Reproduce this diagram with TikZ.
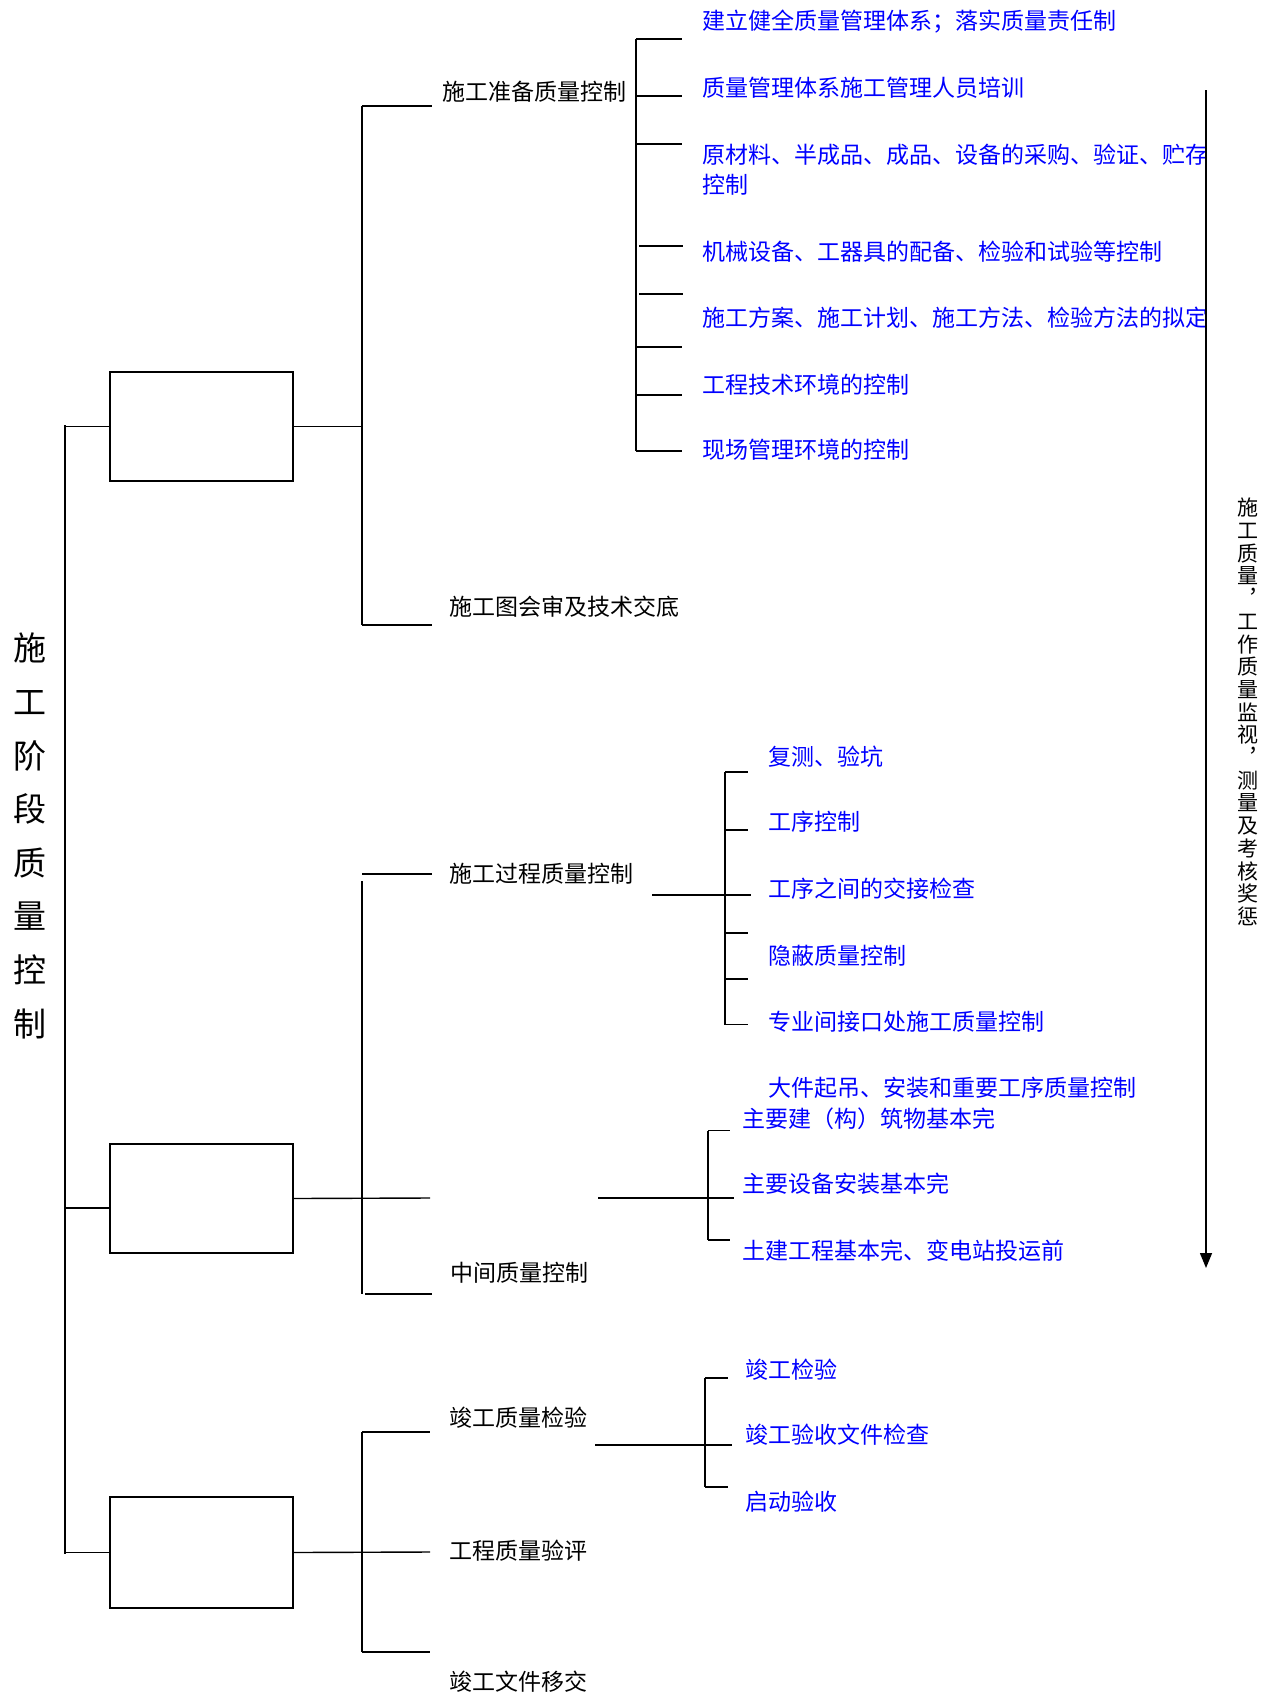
\documentclass[tikz,border=0pt]{standalone}
\usepackage{fontspec}
\setmainfont{Noto Sans CJK SC}
\usetikzlibrary{arrows.meta}
\definecolor{tblue}{RGB}{0,0,255}
\begin{document}
\begin{tikzpicture}[x=1pt,y=-1pt,
  ln/.style={line width=1.4pt, black},
  lbl/.style={anchor=west, inner sep=0pt, font=\fontsize{23}{30}\selectfont, text=black},
  blu/.style={lbl, text=tblue},
  bx/.style={draw, line width=1.4pt, minimum width=183pt, minimum height=109pt, inner sep=0pt}]
\useasboundingbox[fill=white] (0,0) rectangle (1280,1697);

% title
\node[font=\fontsize{33}{53.6}\selectfont, align=center, inner sep=0pt] (title) at (30,836)
  {施\\工\\阶\\段\\质\\量\\控\\制};

% boxes
\node[bx] (b1) at (201.5,426.5) {};
\node[bx] (b2) at (201.5,1198.5) {};
\node[bx, minimum height=111pt] (b3) at (201.5,1552.5) {};

% main spine
\coordinate (s1t) at (65,425);
\coordinate (s1b) at (65,1554);
\draw[ln] (s1t) -- (s1b);
\draw[ln] (b1.west -| s1t) -- (b1.west);
\draw[ln] ([yshift=-9.5pt]b2.west -| s1t) -- ([yshift=-9.5pt]b2.west);
\draw[ln] (b3.west -| s1t) -- (b3.west);

% second-level spines
\coordinate (p1t) at (362,106);
\coordinate (p1b) at (362,625);
\draw[ln] (p1t) -- (p1b);
\draw[ln] (b1.east) -- (b1.east -| p1t);
\coordinate (p2t) at (362,881);
\coordinate (p2b) at (362,1294);
\draw[ln] (p2t) -- (p2b);
\coordinate (p2m) at (430,1198);
\draw[ln] (b2.east) -- (p2m);
\coordinate (p3t) at (362,1432);
\coordinate (p3b) at (362,1652);
\draw[ln] (p3t) -- (p3b);
\coordinate (p3m) at (430,1552);
\draw[ln] (b3.east) -- (p3m);

% labels
\node[lbl] (L1) at (442,92) {施工准备质量控制};
\node[lbl] (L2) at (449,607) {施工图会审及技术交底};
\node[lbl] (L3) at (449,874) {施工过程质量控制};
\node[lbl] (L4) at (450,1273) {中间质量控制};
\node[lbl] (L5) at (449,1418) {竣工质量检验};
\node[lbl] (L6) at (449,1551) {工程质量验评};
\node[lbl] (L7) at (449,1682) {竣工文件移交};

\coordinate (h1) at (432,106);
\coordinate (h2) at (432,625);
\coordinate (h3t) at (362,874);
\coordinate (h3) at (432,874);
\coordinate (h4t) at (365,1294);
\coordinate (h4) at (432,1294);
\coordinate (h5) at (430,1432);
\coordinate (h7) at (430,1652);
\draw[ln] (p1t) -- (h1);
\draw[ln] (p1b) -- (h2);
\draw[ln] (h3t) -- (h3);
\draw[ln] (h4t) -- (h4);
\draw[ln] (p3t) -- (h5);
\draw[ln] (p3b) -- (h7);

% bracket A
\coordinate (aT) at (636,39);
\coordinate (aB) at (636,451);
\draw[ln] (aT) -- (aB);
\foreach \y in {39,96,144,347,395,451} \draw[ln] (636,\y) -- (682,\y);
\foreach \y in {246,294} \draw[ln] (639,\y) -- (683,\y);
\node[blu] (a1) at (702,21.7) {建立健全质量管理体系；落实质量责任制};
\node[blu] (a2) at (702,88) {质量管理体系施工管理人员培训};
\node[blu, align=left] (a3) at (702,170) {原材料、半成品、成品、设备的采购、验证、贮存\\控制};
\node[blu] (a4) at (702,252) {机械设备、工器具的配备、检验和试验等控制};
\node[blu] (a5) at (702,318) {施工方案、施工计划、施工方法、检验方法的拟定};
\node[blu] (a6) at (702,385) {工程技术环境的控制};
\node[blu] (a7) at (702,450) {现场管理环境的控制};

% bracket B
\coordinate (bT) at (725,772);
\coordinate (bB) at (725,1024.5);
\coordinate (bF) at (652,895);
\draw[ln] (bT) -- (bB);
\draw[ln] (bF) -- (751,895);
\foreach \y in {772,830,933,979,1024.5} \draw[ln] (725,\y) -- (748,\y);
\node[blu] (c1) at (768,757) {复测、验坑};
\node[blu] (c2) at (768,822) {工序控制};
\node[blu] (c3) at (768,889) {工序之间的交接检查};
\node[blu] (c4) at (768,956) {隐蔽质量控制};
\node[blu] (c5) at (768,1021.5) {专业间接口处施工质量控制};
\node[blu] (c6) at (768,1088) {大件起吊、安装和重要工序质量控制};

% bracket C
\coordinate (cT) at (708,1130.5);
\coordinate (cB) at (708,1240);
\coordinate (cF) at (598,1198);
\draw[ln] (cT) -- (cB);
\draw[ln] (cF) -- (734,1198);
\foreach \y in {1130.5,1240} \draw[ln] (708,\y) -- (730,\y);
\node[blu] (d1) at (742,1119) {主要建（构）筑物基本完};
\node[blu] (d2) at (742,1184) {主要设备安装基本完};
\node[blu] (d3) at (742,1251) {土建工程基本完、变电站投运前};

% bracket D
\coordinate (dT) at (705,1378);
\coordinate (dB) at (705,1487);
\coordinate (dF) at (595,1445);
\draw[ln] (dT) -- (dB);
\draw[ln] (dF) -- (732,1445);
\foreach \y in {1378,1487} \draw[ln] (705,\y) -- (728,\y);
\node[blu] (e1) at (745,1370) {竣工检验};
\node[blu] (e2) at (745,1435) {竣工验收文件检查};
\node[blu] (e3) at (745,1502) {启动验收};

% arrow
\coordinate (arT) at (1206,90);
\coordinate (arB) at (1206,1268);
\draw[line width=1.4pt, -{Triangle[length=15pt,width=12pt]}] (arT) -- (arB);
\node[font=\fontsize{21}{22.7}\selectfont, align=center, inner sep=0pt] (side) at (1248,712)
  {施\\工\\质\\量\\︐\\工\\作\\质\\量\\监\\视\\︐\\测\\量\\及\\考\\核\\奖\\惩};
\end{tikzpicture}
\end{document}
